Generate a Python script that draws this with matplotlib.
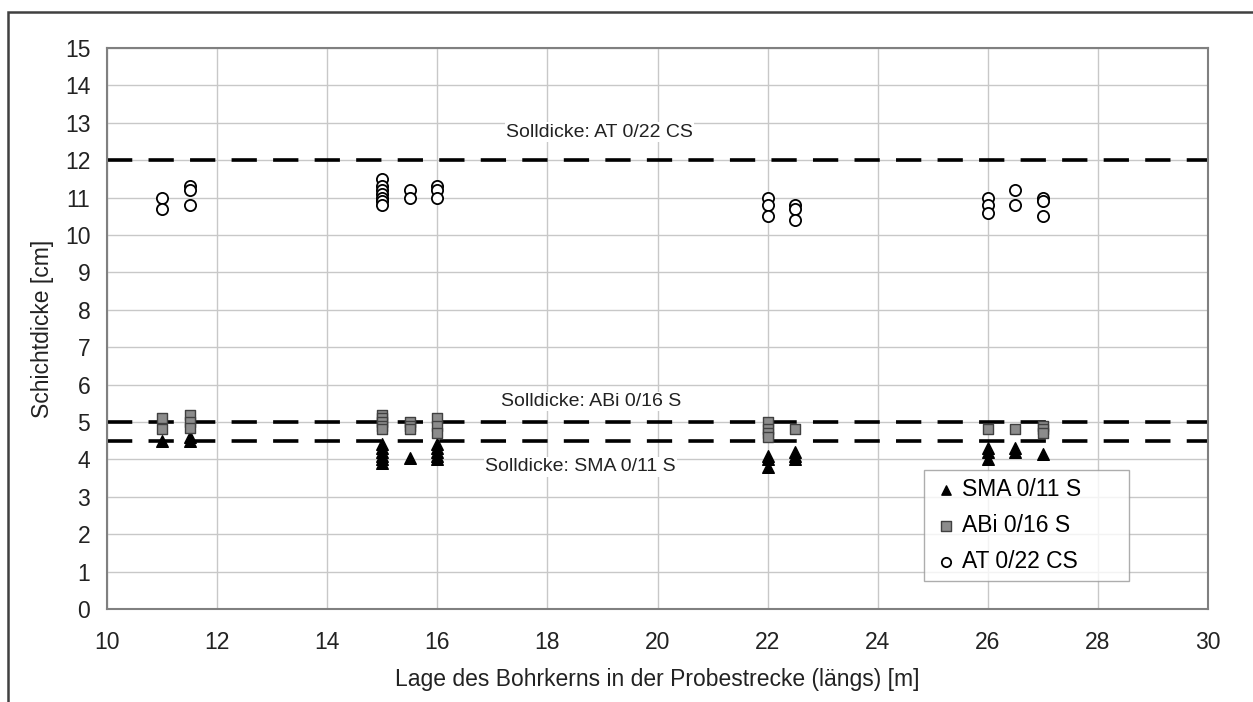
import numpy as np
import matplotlib.pyplot as plt
from matplotlib.patches import Rectangle

plt.rcParams['font.family'] = ['Liberation Sans', 'DejaVu Sans']

# SMA 0/11 S (triangles)
sma_x = [11, 11.5, 11.5,
         15, 15, 15, 15, 15, 15, 15.5, 16, 16, 16, 16, 16,
         22, 22, 22, 22.5, 22.5, 22.5,
         26, 26, 26, 26.5, 26.5, 27]
sma_y = [4.5, 4.6, 4.5,
         4.4, 4.3, 4.2, 4.1, 4.0, 3.9, 4.05, 4.4, 4.3, 4.2, 4.1, 4.0,
         4.1, 4.0, 3.8, 4.2, 4.1, 4.0,
         4.3, 4.2, 4.0, 4.3, 4.2, 4.15]

# ABi 0/16 S (grey squares)
abi_x = [11, 11, 11.5, 11.5, 11.5,
         15, 15, 15, 15, 15, 15.5, 15.5, 15.5, 16, 16, 16,
         22, 22, 22, 22, 22.5,
         26, 26.5, 27, 27, 27]
abi_y = [5.1, 4.8, 5.2, 5.0, 4.85,
         5.2, 5.1, 5.0, 4.9, 4.8, 5.0, 4.9, 4.8, 5.1, 4.9, 4.7,
         5.0, 4.8, 4.7, 4.6, 4.8,
         4.8, 4.8, 4.9, 4.8, 4.7]

# AT 0/22 CS (open circles)
at_x = [11, 11, 11.5, 11.5, 11.5,
        15, 15, 15, 15, 15, 15, 15, 15.5, 15.5, 16, 16, 16,
        22, 22, 22, 22.5, 22.5, 22.5,
        26, 26, 26, 26.5, 26.5, 27, 27, 27]
at_y = [11.0, 10.7, 11.3, 11.2, 10.8,
        11.5, 11.3, 11.2, 11.1, 11.0, 10.9, 10.8, 11.2, 11.0, 11.3, 11.2, 11.0,
        11.0, 10.8, 10.5, 10.8, 10.7, 10.4,
        11.0, 10.8, 10.6, 11.2, 10.8, 11.0, 10.9, 10.5]

soll = [12, 5, 4.5]
soll_text = ['Solldicke: AT 0/22 CS', 'Solldicke: ABi 0/16 S', 'Solldicke: SMA 0/11 S']
soll_pos = [(18.95, 12.75), (18.8, 5.55), (18.6, 3.8)]

fig = plt.figure(figsize=(12.53, 7.02), dpi=100)
ax = fig.add_axes([107/1253, 1 - 609/702, (1208-107)/1253, (609-48)/702])

# outer frame of the picture (cut off at right and bottom)
fig.patches.append(Rectangle((8/1253, -0.1), 1.5, 1 - 12/702 + 0.1, transform=fig.transFigure,
                             fill=False, edgecolor='#404040', linewidth=1.8))

for y in soll:
    ax.axhline(y, color='black', linewidth=2.6, dashes=(7, 4.5), zorder=2)
for t, (tx, ty) in zip(soll_text, soll_pos):
    ax.text(tx, ty, t, fontsize=14, ha='center', va='center', color='#222222', zorder=1,
            bbox=dict(facecolor='white', edgecolor='none', pad=1))

ax.scatter(sma_x, sma_y, marker='^', s=70, color='black', label='SMA 0/11 S', zorder=3)
ax.scatter(abi_x, abi_y, marker='s', s=60, facecolor='#8c8c8c', edgecolor='#404040',
           linewidth=1, label='ABi 0/16 S', zorder=3)
ax.scatter(at_x, at_y, marker='o', s=65, facecolor='white', edgecolor='black',
           linewidth=1.3, label='AT 0/22 CS', zorder=3)

ax.set_xlim(10, 30)
ax.set_ylim(0, 15)
ax.set_xticks(np.arange(10, 31, 2))
ax.set_yticks(np.arange(0, 16, 1))
ax.grid(True, color='#c8c8c8', linewidth=1)
ax.set_axisbelow(True)
ax.tick_params(length=0, labelsize=16.5, colors='#222222')
ax.tick_params(axis='x', pad=16)
ax.tick_params(axis='y', pad=12)
for s in ax.spines.values():
    s.set_color('#808080')
    s.set_linewidth(1.5)

ax.set_xlabel('Lage des Bohrkerns in der Probestrecke (längs) [m]', fontsize=16.5, color='#222222', labelpad=10)
ax.set_ylabel('Schichtdicke [cm]', fontsize=16.5, color='#222222', labelpad=8)

leg = ax.legend(loc='lower left', bbox_to_anchor=((913-107)/1101, (609-592)/561,
                                                   (1140-913)/1101, (592-483)/561),
                mode='expand', fontsize=16.5, frameon=True, fancybox=False,
                handletextpad=0.1, handlelength=1.2, borderpad=0.35, labelspacing=0.55,
                scatterpoints=1)
leg.get_frame().set_edgecolor('#999999')
leg.get_frame().set_linewidth(1)
for h in leg.legend_handles:
    h.set_sizes([45])

fig.savefig('out.png', dpi=100)
